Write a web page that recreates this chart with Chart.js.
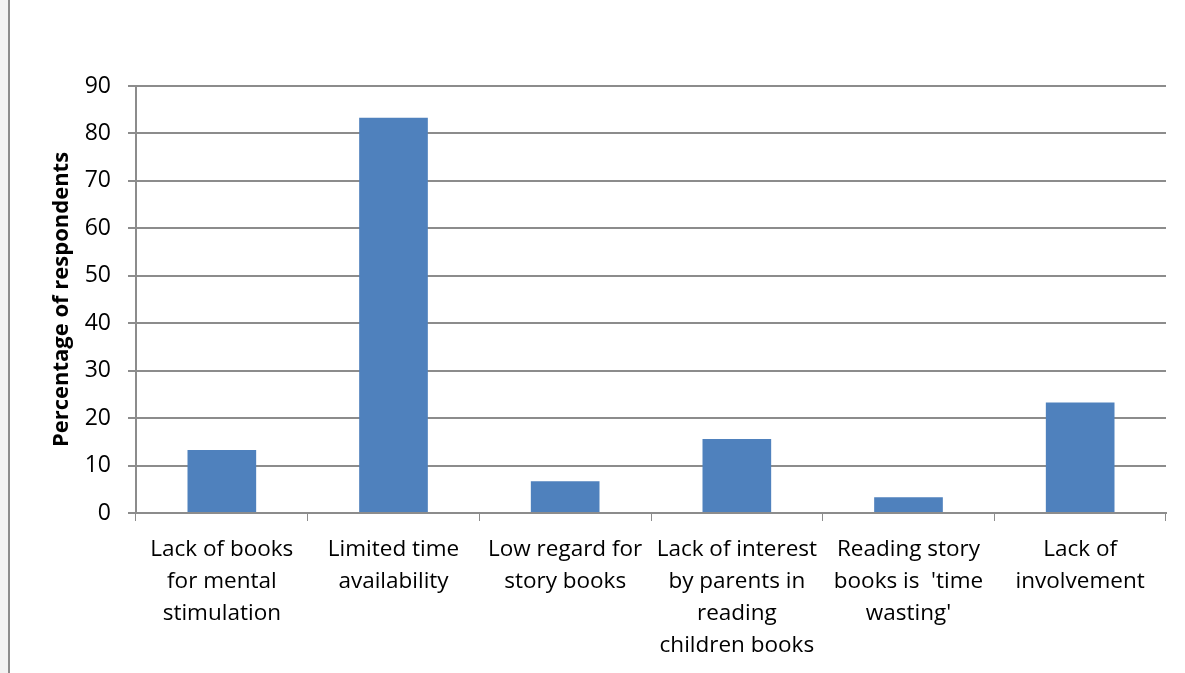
<!DOCTYPE html>
<html>
<head>
<meta charset="utf-8">
<script src="https://cdn.jsdelivr.net/npm/chart.js@4"></script>
<style>
html,body{margin:0;padding:0;background:#fff;}
#wrap{position:relative;width:1185px;height:673px;overflow:hidden;}
#strip{position:absolute;left:0;top:0;width:8px;height:673px;background:#f2f2f2;border-right:2px solid #8c8c8c;}
canvas{position:absolute;left:0;top:0;}
</style>
</head>
<body>
<div id="wrap"><div id="strip"></div><canvas id="c" width="1185" height="673"></canvas></div>
<script>
const categories = [
  ["Lack of books", "for mental", "stimulation"],
  ["Limited time", "availability"],
  ["Low regard for", "story books"],
  ["Lack of interest", "by parents in", "reading", "children books"],
  ["Reading story", "books is  'time", "wasting'"],
  ["Lack of", "involvement"]
];
const values = [13.3, 83.3, 6.7, 15.6, 3.3, 23.3];
const yTitle = "Percentage of respondents";
const yMin = 0, yMax = 90, yStep = 10;

const FONT = "'Open Sans', sans-serif";
new Chart(document.getElementById('c'), {
  type: 'bar',
  data: {
    labels: categories,
    datasets: [{
      data: values,
      backgroundColor: '#4f81bd',
      borderColor: '#4f81bd',
      borderWidth: 0,
      barPercentage: 0.4,
      categoryPercentage: 1.0
    }]
  },
  options: {
    responsive: false,
    animation: false,
    layout: { padding: { left: 49, right: 19, top: 86, bottom: 0 } },
    plugins: { legend: { display: false }, tooltip: { enabled: false } },
    scales: {
      x: {
        offset: true,
        grid: { display: true, drawOnChartArea: false, drawTicks: true, tickLength: 8, color: '#8c8c8c', lineWidth: 1, offset: true },
        border: { display: true, color: '#8c8c8c', width: 2 },
        ticks: { color: '#000', font: { family: FONT, size: 22.5, lineHeight: 32/22.5 }, padding: 13, maxRotation: 0, autoSkip: false },
        afterFit: s => { s.height = 160; }
      },
      y: {
        min: yMin, max: yMax,
        grid: { color: '#8c8c8c', lineWidth: 2, tickLength: 8, drawTicks: true },
        border: { display: true, color: '#8c8c8c', width: 2 },
        ticks: { stepSize: yStep, color: '#000', font: { family: FONT, size: 23 }, padding: 17 },
        title: { display: true, text: yTitle, color: '#000', font: { family: FONT, size: 22, weight: 'bold' }, padding: { top: 0, bottom: 0 } },
        afterFit: s => { s.width = 87; }
      }
    }
  }
});
</script>
</body>
</html>
